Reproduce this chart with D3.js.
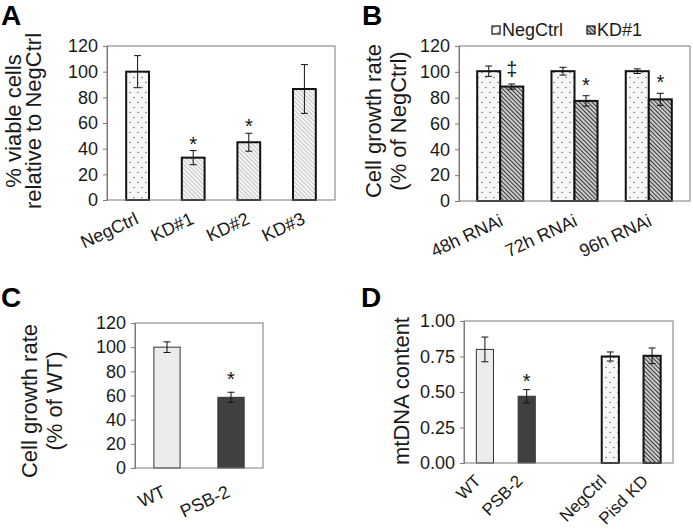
<!DOCTYPE html>
<html><head><meta charset="utf-8">
<script src="https://cdn.jsdelivr.net/npm/d3@7"></script>
<style>body{margin:0;background:#fff;} svg{display:block;} text{font-family:Arial,"Liberation Sans",sans-serif;}</style>
</head><body><svg id="c" width="693" height="530"></svg>
<script>
// ---------- DATA ----------
const catsA = ["NegCtrl", "KD#1", "KD#2", "KD#3"];
const valsA = [100, 33, 45, 86.5];
const errA  = [12.5, 5.5, 7, 19];
const sigA  = ["", "*", "*", ""];
const ticksA = [0, 20, 40, 60, 80, 100, 120];

const groupsB = ["48h RNAi", "72h RNAi", "96h RNAi"];
const seriesB = ["NegCtrl", "KD#1"];
const negB    = [100.5, 100.5, 100.5];
const negErrB = [4, 3, 1.8];
const kdB     = [88.6, 77.5, 78.7];
const kdErrB  = [2, 4, 4.7];
const sigB    = ["\u2021", "*", "*"];
const ticksB  = [0, 20, 40, 60, 80, 100, 120];

const catsC = ["WT", "PSB-2"];
const valsC = [100, 58.5];
const errC  = [4.4, 4.2];
const sigC  = ["", "*"];
const ticksC = [0, 20, 40, 60, 80, 100, 120];

const catsD = ["WT", "PSB-2", "NegCtrl", "Pisd KD"];
const valsD = [0.80, 0.47, 0.75, 0.755];
const errD  = [0.087, 0.047, 0.032, 0.055];
const sigD  = ["", "*", "", ""];
const ticksD = [0, 0.25, 0.5, 0.75, 1.0];

// ---------- SETUP ----------
const svg = d3.select("#c");
const FONT = "Arial, 'Liberation Sans', sans-serif";
const defs = svg.append("defs");

// dotted pattern
const pd = defs.append("pattern").attr("id", "dots").attr("patternUnits", "userSpaceOnUse").attr("width", 8).attr("height", 10);
pd.append("rect").attr("width", 8).attr("height", 10).attr("fill", "#f7f7f7");
pd.append("circle").attr("cx", 2).attr("cy", 2.5).attr("r", 0.75).attr("fill", "#6a6a6a");
pd.append("circle").attr("cx", 6).attr("cy", 7.5).attr("r", 0.75).attr("fill", "#6a6a6a");

function hatch(id, bg, color, s, sw) {
  const ph = defs.append("pattern").attr("id", id).attr("patternUnits", "userSpaceOnUse")
    .attr("width", s).attr("height", s).attr("patternTransform", "rotate(45)");
  ph.append("rect").attr("width", s).attr("height", s).attr("fill", bg);
  ph.append("line").attr("x1", 0).attr("y1", s / 2).attr("x2", s).attr("y2", s / 2)
    .attr("stroke", color).attr("stroke-width", sw);
}
hatch("hatchLight", "#f6f6f6", "#c4c4c4", 3, 1);
hatch("hatchDark", "#e4e4e4", "#3a3a3a", 3, 1.3);

function drawPanel(p) {
  const g = svg.append("g");
  const x = d3.scaleBand().domain(p.domain).range([p.x0, p.x1]).paddingInner(0).paddingOuter(p.outer || 0);
  const y = d3.scaleLinear().domain([p.ticks[0], p.ticks[p.ticks.length - 1]]).range([p.y1, p.y0]);

  // bars
  p.bars.forEach(b => {
    const cx = x(b.cat) + x.bandwidth() / 2 + (b.off || 0) * x.bandwidth();
    const w = p.barFrac * x.bandwidth();
    g.append("rect").attr("x", cx - w / 2).attr("y", y(b.v)).attr("width", w).attr("height", y(0) - y(b.v))
      .attr("fill", b.fill).attr("stroke", b.stroke).attr("stroke-width", b.sw);
    const eT = y(b.v + b.e), eB = y(b.v - b.e);
    g.append("line").attr("x1", cx).attr("x2", cx).attr("y1", eT).attr("y2", eB).attr("stroke", "#111").attr("stroke-width", 1);
    [eT, eB].forEach(yy => g.append("line").attr("x1", cx - 3.5).attr("x2", cx + 3.5).attr("y1", yy).attr("y2", yy).attr("stroke", "#111").attr("stroke-width", 1));
    if (b.sig) {
      g.append("text").attr("x", cx).attr("y", eT - (b.sig === "*" ? p.sigDy : p.sigDy + 4)).attr("text-anchor", "middle")
        .attr("font-size", 20).attr("font-family", FONT).attr("fill", "#111").text(b.sig);
    }
  });

  // frame
  g.append("rect").attr("x", p.x0).attr("y", p.y0).attr("width", p.x1 - p.x0).attr("height", p.y1 - p.y0)
    .attr("fill", "none").attr("stroke", "#7a7a7a").attr("stroke-width", 1);

  // y axis
  const ya = g.append("g").attr("transform", `translate(${p.x0},0)`)
    .call(d3.axisLeft(y).tickValues(p.ticks).tickFormat(p.fmt).tickSizeOuter(0).tickSize(4).tickPadding(5));
  ya.select(".domain").attr("stroke", "#7a7a7a");
  ya.selectAll(".tick line").attr("stroke", "#7a7a7a");
  ya.selectAll(".tick text").attr("font-size", 18).attr("font-family", FONT).attr("fill", "#1a1a1a");

  // x axis labels
  const xa = g.append("g").attr("transform", `translate(0,${p.y1})`)
    .call(d3.axisBottom(x).tickSize(0).tickFormat(d => d.trim() ? d : ""));
  xa.select(".domain").remove();
  xa.selectAll(".tick text").attr("text-anchor", "end").attr("font-size", p.lsize).attr("font-family", FONT).attr("fill", "#1a1a1a")
    .attr("x", 0).attr("y", 0).attr("dy", 0)
    .attr("transform", `translate(${p.lx},${p.ly}) rotate(${p.rot})`);

  // y title
  p.title.forEach((t, i) => {
    g.append("text").attr("transform", `translate(${p.tx[i]},${p.ty}) rotate(-90)`).attr("text-anchor", "middle")
      .attr("font-size", p.tsize).attr("font-family", FONT).attr("fill", "#1a1a1a").text(t);
  });

  // panel letter
  g.append("text").attr("x", p.lab[0]).attr("y", p.lab[1]).attr("font-size", 28).attr("font-weight", "bold")
    .attr("font-family", FONT).attr("fill", "#000").text(p.letter);
  return { x, y, g };
}

// ---------- PANEL A ----------
const fillA = ["url(#dots)", "url(#hatchLight)", "url(#hatchLight)", "url(#hatchLight)"];
drawPanel({
  x0: 107, x1: 335, y0: 46, y1: 200, outer: 0.05, domain: catsA, ticks: ticksA, fmt: d3.format("d"),
  barFrac: 0.41, sigDy: 0,
  bars: catsA.map((c, i) => ({ cat: c, v: valsA[i], e: errA[i], sig: sigA[i], fill: fillA[i], stroke: "#111", sw: 2 })),
  lx: 2, ly: 23, rot: -25, lsize: 18,
  title: ["% viable cells", "relative to NegCtrl"], tx: [21, 41], ty: 121, tsize: 22,
  letter: "A", lab: [1, 25]
});

// ---------- PANEL B ----------
drawPanel({
  x0: 459, x1: 690, y0: 46, y1: 201, outer: 0.055, domain: groupsB, ticks: ticksB, fmt: d3.format("d"),
  barFrac: 0.31, sigDy: 4,
  bars: groupsB.flatMap((gname, i) => [
    { cat: gname, off: -0.155, v: negB[i], e: negErrB[i], fill: "url(#dots)", stroke: "#111", sw: 2 },
    { cat: gname, off: 0.155, v: kdB[i], e: kdErrB[i], sig: sigB[i], fill: "url(#hatchDark)", stroke: "#111", sw: 2 }
  ]),
  lx: 4, ly: 24, rot: -25, lsize: 18,
  title: ["Cell growth rate", "(% of NegCtrl)"], tx: [381, 406], ty: 121, tsize: 22,
  letter: "B", lab: [362, 25]
});
// legend B
const legFills = ["url(#dots)", "url(#hatchDark)"];
const legX = [492, 587];
seriesB.forEach((s, i) => {
  svg.append("rect").attr("x", legX[i]).attr("y", 26).attr("width", 8).attr("height", 8)
    .attr("fill", legFills[i]).attr("stroke", "#111").attr("stroke-width", 1.2);
  svg.append("text").attr("x", legX[i] + 10).attr("y", 36).attr("font-size", 18).attr("font-family", FONT)
    .attr("fill", "#1a1a1a").text(s);
});

// ---------- PANEL C ----------
const fillC = ["#ececec", "#404040"];
drawPanel({
  x0: 135, x1: 263, y0: 323, y1: 468, outer: 0, domain: catsC, ticks: ticksC, fmt: d3.format("d"),
  barFrac: 0.41, sigDy: 6,
  bars: catsC.map((c, i) => ({ cat: c, v: valsC[i], e: errC[i], sig: sigC[i], fill: fillC[i], stroke: "#333", sw: 1 })),
  lx: 0, ly: 28, rot: -25, lsize: 18,
  title: ["Cell growth rate", "(% of WT)"], tx: [37, 62], ty: 401, tsize: 22,
  letter: "C", lab: [1, 307]
});

// ---------- PANEL D ----------
const domD = ["WT", "PSB-2", " ", "NegCtrl", "Pisd KD"];
const fillD = ["#ececec", "#404040", "url(#dots)", "url(#hatchDark)"];
const strokeD = ["#333", "#333", "#111", "#111"];
const swD = [1, 1, 2, 2];
drawPanel({
  x0: 464, x1: 673, y0: 321, y1: 463, outer: 0, domain: domD, ticks: ticksD, fmt: d3.format(".2f"),
  barFrac: 0.41, sigDy: 2,
  bars: catsD.map((c, i) => ({ cat: c, v: valsD[i], e: errD[i], sig: sigD[i], fill: fillD[i], stroke: strokeD[i], sw: swD[i] })),
  lx: -3, ly: 19, rot: -45, lsize: 17,
  title: ["mtDNA content"], tx: [409], ty: 391, tsize: 22,
  letter: "D", lab: [361, 307]
});
</script></body></html>
